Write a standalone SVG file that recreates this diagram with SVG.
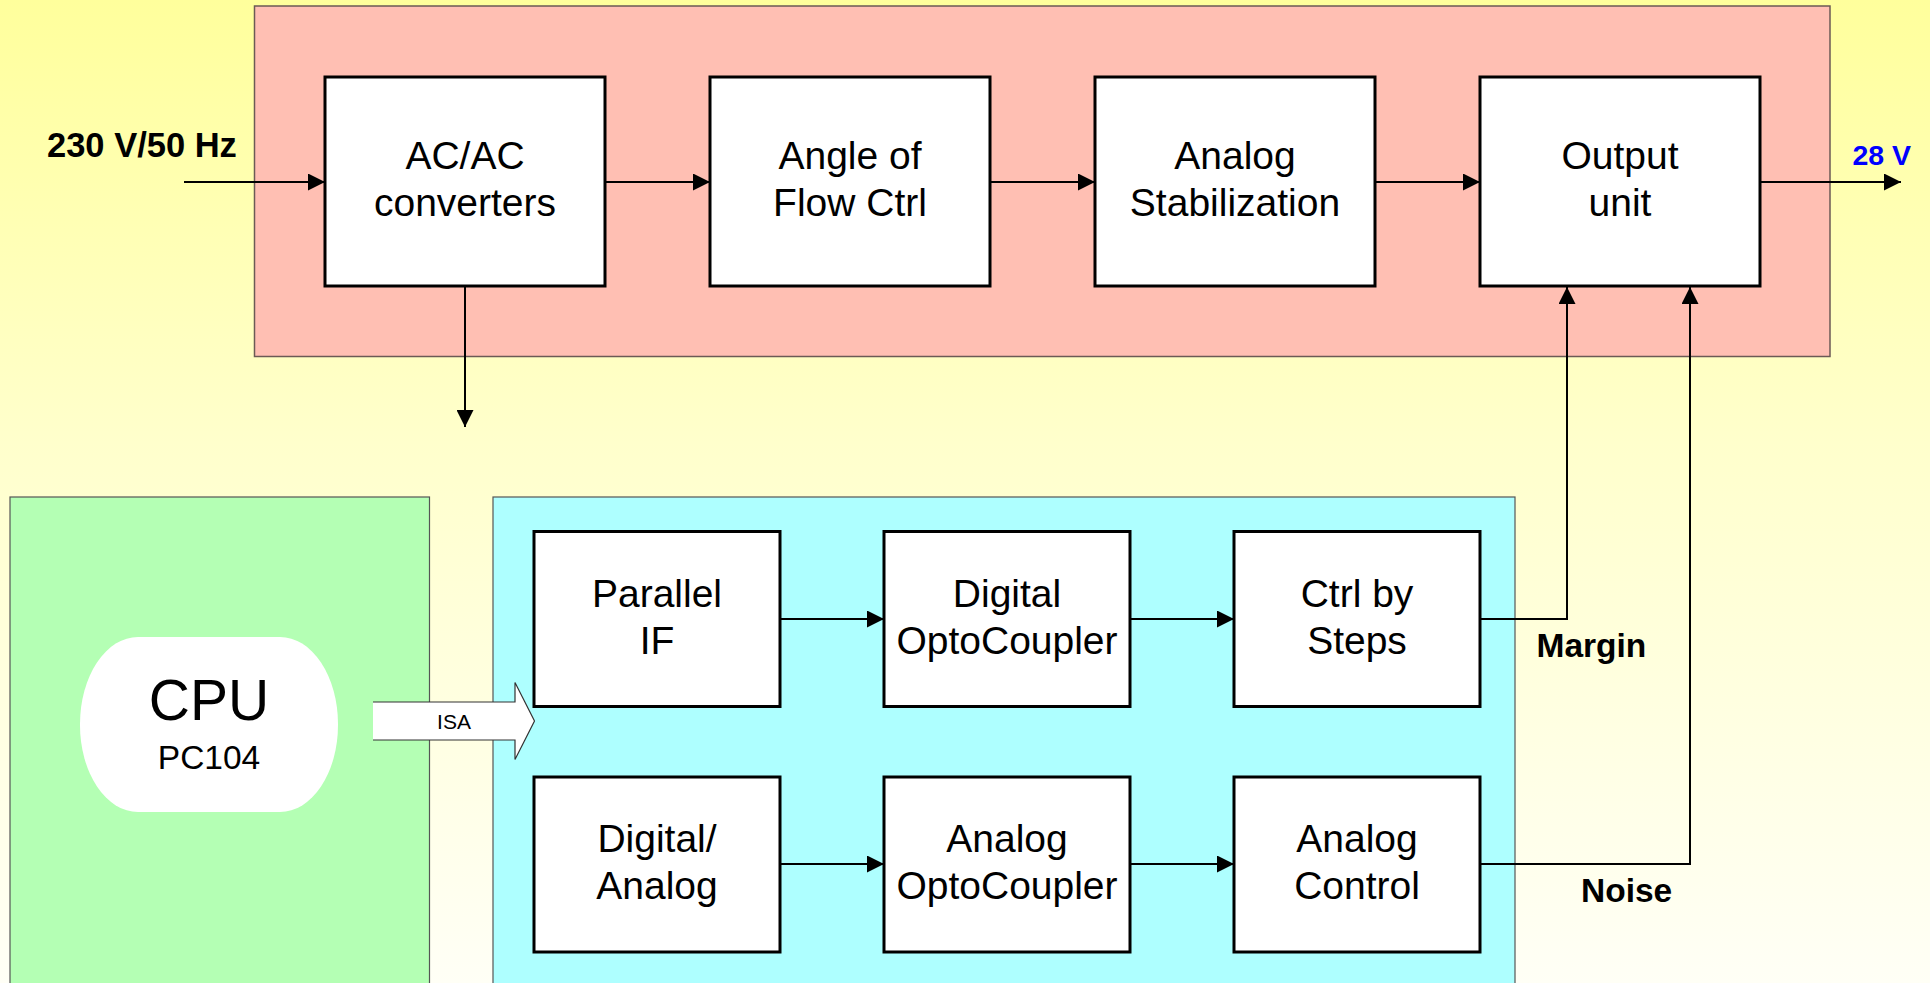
<svg xmlns="http://www.w3.org/2000/svg" width="1930" height="983" viewBox="0 0 1930 983">
<defs>
<linearGradient id="bg" x1="0" y1="0" x2="0" y2="1">
<stop offset="0" stop-color="#FFFF9C"/>
<stop offset="0.45" stop-color="#FFFFCC"/>
<stop offset="1" stop-color="#FFFFF6"/>
</linearGradient>
<marker id="ah" markerWidth="17" markerHeight="17" viewBox="0 0 17 17" refX="17" refY="8.5" orient="auto" markerUnits="userSpaceOnUse">
<path d="M0,0 L17,8.5 L0,17 Z" fill="#000"/>
</marker>
<style>
.blk{fill:#fff;stroke:#000;stroke-width:3}
.lbl{font-family:"Liberation Sans",Arial,sans-serif;font-size:39px;text-anchor:middle;fill:#000}
.bold{font-family:"Liberation Sans",Arial,sans-serif;font-weight:bold;font-size:33.5px;fill:#000}
.con{fill:none;stroke:#000;stroke-width:2}
.arr{marker-end:url(#ah)}
</style>
</defs>
<rect x="0" y="0" width="1930" height="983" fill="url(#bg)"/>

<g id="power-section">
<rect x="254.5" y="6" width="1575.5" height="350.5" fill="#FFBFB3" stroke="#6b5a55" stroke-width="1.5"/>
</g>
<g id="cpu-section">
<rect x="10" y="497" width="419.5" height="500" fill="#B4FFB4" stroke="#555" stroke-width="1.2"/>
</g>
<g id="io-section">
<rect x="493" y="497" width="1022" height="500" fill="#AEFFFF" stroke="#555" stroke-width="1.2"/>
</g>

<g id="connectors">
<line class="con arr" x1="184" y1="182" x2="325" y2="182"/>
<line class="con arr" x1="605" y1="182" x2="710" y2="182"/>
<line class="con arr" x1="990" y1="182" x2="1095" y2="182"/>
<line class="con arr" x1="1375" y1="182" x2="1480" y2="182"/>
<line class="con arr" x1="1760" y1="182" x2="1901" y2="182"/>
<line class="con arr" x1="465" y1="286" x2="465" y2="427"/>
<line class="con arr" x1="780" y1="619" x2="884" y2="619"/>
<line class="con arr" x1="1130" y1="619" x2="1234" y2="619"/>
<line class="con arr" x1="780" y1="864" x2="884" y2="864"/>
<line class="con arr" x1="1130" y1="864" x2="1234" y2="864"/>
<polyline class="con arr" points="1480,619 1567,619 1567,287"/>
<polyline class="con arr" points="1480,864 1690,864 1690,287"/>
</g>

<g id="isa-arrow">
<polygon points="373,702 515,702 515,682.5 534.5,721 515,759.5 515,740 373,740" fill="#fff"/>
<polyline points="373,702 515,702 515,682.5 534.5,721 515,759.5 515,740 373,740" fill="none" stroke="#333" stroke-width="1.2"/>
<text x="454" y="728.5" font-family="Liberation Sans, Arial, sans-serif" font-size="21" text-anchor="middle" fill="#000">ISA</text>
</g>

<g id="cpu">
<rect x="80" y="637" width="258" height="175" rx="58" ry="87" fill="#fff"/>
<text x="209" y="720" font-family="Liberation Sans, Arial, sans-serif" font-size="57" text-anchor="middle" fill="#000">CPU</text>
<text x="209" y="769" font-family="Liberation Sans, Arial, sans-serif" font-size="33.5" text-anchor="middle" fill="#000">PC104</text>
</g>

<g id="ac-ac">
<rect class="blk" x="325" y="77" width="280" height="209"/>
<text class="lbl" x="465" y="169">AC/AC</text>
<text class="lbl" x="465" y="216">converters</text>
</g>
<g id="angle-flow">
<rect class="blk" x="710" y="77" width="280" height="209"/>
<text class="lbl" x="850" y="169">Angle of</text>
<text class="lbl" x="850" y="216">Flow Ctrl</text>
</g>
<g id="analog-stab">
<rect class="blk" x="1095" y="77" width="280" height="209"/>
<text class="lbl" x="1235" y="169">Analog</text>
<text class="lbl" x="1235" y="216">Stabilization</text>
</g>
<g id="output-unit">
<rect class="blk" x="1480" y="77" width="280" height="209"/>
<text class="lbl" x="1620" y="169">Output</text>
<text class="lbl" x="1620" y="216">unit</text>
</g>

<g id="parallel-if">
<rect class="blk" x="534" y="531.5" width="246" height="175"/>
<text class="lbl" x="657" y="606.5">Parallel</text>
<text class="lbl" x="657" y="653.5">IF</text>
</g>
<g id="digital-opto">
<rect class="blk" x="884" y="531.5" width="246" height="175"/>
<text class="lbl" x="1007" y="606.5">Digital</text>
<text class="lbl" x="1007" y="653.5">OptoCoupler</text>
</g>
<g id="ctrl-steps">
<rect class="blk" x="1234" y="531.5" width="246" height="175"/>
<text class="lbl" x="1357" y="606.5">Ctrl by</text>
<text class="lbl" x="1357" y="653.5">Steps</text>
</g>
<g id="digital-analog">
<rect class="blk" x="534" y="777" width="246" height="175"/>
<text class="lbl" x="657" y="852">Digital/</text>
<text class="lbl" x="657" y="899">Analog</text>
</g>
<g id="analog-opto">
<rect class="blk" x="884" y="777" width="246" height="175"/>
<text class="lbl" x="1007" y="852">Analog</text>
<text class="lbl" x="1007" y="899">OptoCoupler</text>
</g>
<g id="analog-control">
<rect class="blk" x="1234" y="777" width="246" height="175"/>
<text class="lbl" x="1357" y="852">Analog</text>
<text class="lbl" x="1357" y="899">Control</text>
</g>

<g id="labels">
<text class="bold" x="47" y="156.5" style="font-size:34.5px">230 V/50 Hz</text>
<text class="bold" x="1852.5" y="165" style="fill:#0000FF;font-size:28.5px">28 V</text>
<text class="bold" x="1536.5" y="656.5">Margin</text>
<text class="bold" x="1581" y="902">Noise</text>
</g>
</svg>
